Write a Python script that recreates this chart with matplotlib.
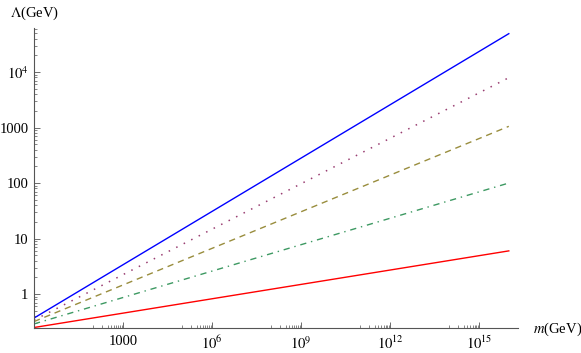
import numpy as np
import matplotlib
matplotlib.use('Agg')
import matplotlib.pyplot as plt
from matplotlib.ticker import FixedLocator, FixedFormatter, NullFormatter

plt.rcParams['font.family'] = ['Liberation Serif', 'DejaVu Serif']
plt.rcParams['mathtext.fontset'] = 'stix'

# line end points (m in GeV, Lambda in GeV)
m_ends = [1.0, 1e16]
lam_blue = [0.37, 4.9e4]
lam_purple = [0.34, 7.9e3]
lam_olive = [0.32, 1.05e3]
lam_green = [0.29, 100.0]
lam_red = [0.25, 6.0]

x_ticks = [1e3, 1e6, 1e9, 1e12, 1e15]
x_labels = ['1000', '$10^{6}$', '$10^{9}$', '$10^{12}$', '$10^{15}$']
y_ticks = [1, 10, 100, 1000, 1e4]
y_labels = ['1', '10', '100', '1000', '$10^{4}$']

fig = plt.figure(figsize=(5.81, 3.53), dpi=100)
ax = fig.add_axes([34 / 581, 25 / 353, 484 / 581, 300 / 353])

ax.plot(m_ends, lam_blue, color=(0, 0, 1), lw=1)
ax.plot(m_ends, lam_purple, color=(0.6, 0.24, 0.443), lw=1.1, dashes=(1, 4.5))
ax.plot(m_ends, lam_olive, color=(0.6, 0.553, 0.24), lw=1, dashes=(4.5, 3.5))
ax.plot(m_ends, lam_green, color=(0.24, 0.6, 0.384), lw=1, dashes=(4.5, 3.5, 1, 3.5))
ax.plot(m_ends, lam_red, color=(1, 0, 0), lw=1)

ax.set_xscale('log')
ax.set_yscale('log')
ax.set_xlim(1, 10 ** 16.31)
ax.set_ylim(0.245, 6.2e4)

for s in ['top', 'right']:
    ax.spines[s].set_visible(False)
for s in ['left', 'bottom']:
    ax.spines[s].set_color('#555555')
    ax.spines[s].set_linewidth(0.8)

ax.xaxis.set_major_locator(FixedLocator(x_ticks))
ax.xaxis.set_major_formatter(FixedFormatter(x_labels))
x_minor = [k * 10.0 ** e for e in [2, 5, 8, 11, 14] for k in range(1, 10)]
x_minor = [v for v in x_minor if v not in x_ticks]
ax.xaxis.set_minor_locator(FixedLocator(x_minor))
ax.xaxis.set_minor_formatter(NullFormatter())

ax.yaxis.set_major_locator(FixedLocator(y_ticks))
ax.yaxis.set_major_formatter(FixedFormatter(y_labels))
y_minor = [k * 10.0 ** e for e in range(-1, 5) for k in range(2, 10)]
ax.yaxis.set_minor_locator(FixedLocator(y_minor))
ax.yaxis.set_minor_formatter(NullFormatter())

ax.tick_params(which='major', direction='in', length=4, width=0.6, color='#555555',
               labelsize=10.5, pad=5)
ax.tick_params(which='minor', direction='in', length=2, width=0.5, color='#555555')
ax.tick_params(axis='y', which='major', pad=4)

fig.text(10 / 581, 1 - 13 / 353, r'$\Lambda$(GeV)', fontsize=10.5, va='center', ha='left')
fig.text(533 / 581, 1 - 329 / 353, r'$m$(GeV)', fontsize=10.5, va='center', ha='left')

fig.savefig('out.png', dpi=100)
